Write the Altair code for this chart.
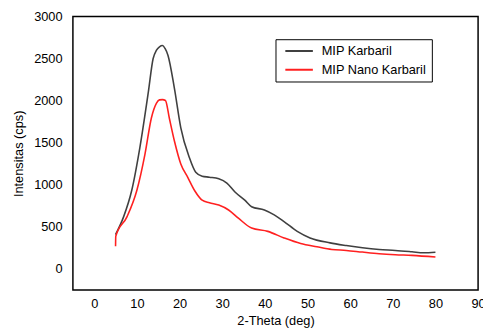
import altair as alt
import pandas as pd

black_x = [5, 6.9, 8.8, 10.7, 12.7, 13.8, 14.6, 15.3, 16.0, 16.6, 17.3, 18.8, 20.3, 22.3, 23.8,
           25.3, 27.0, 29.2, 31.1, 33.0, 35.3, 36.9, 39.9, 42.2, 44.5, 47.6, 50.6, 55.3, 59.1,
           62.9, 66.8, 70.6, 74.5, 77.2, 80]
black_y = [400, 615, 929, 1438, 2105, 2497, 2600, 2640, 2655, 2620, 2537, 2144, 1673, 1320, 1144,
           1097, 1085, 1066, 1015, 909, 811, 733, 694, 635, 556, 439, 361, 302, 270,
           243, 223, 212, 196, 184, 190]

red_x = [5, 5.05, 7.7, 10.0, 11.9, 13.4, 14.6, 15.3, 16.0, 16.7, 17.6, 18.8, 20.3, 21.9, 23.6,
         25.3, 27.0, 29.2, 31.5, 33.8, 36.9, 40.7, 44.5, 48.4, 52.2, 55.7, 59.1, 62.9, 66.8,
         70.6, 74.5, 80]
red_y = [262, 380, 615, 929, 1360, 1791, 1968, 2007, 2010, 2000, 1791, 1517, 1243, 1086, 920,
         811, 780, 753, 694, 596, 478, 439, 361, 294, 255, 223, 212, 192, 173,
         161, 153, 133]

series_names = ["MIP Karbaril", "MIP Nano Karbaril"]
series_colors = ["#404040", "#ff2020"]
x_ticks = [0, 10, 20, 30, 40, 50, 60, 70, 80, 90]
y_ticks = [0, 500, 1000, 1500, 2000, 2500, 3000]

df = pd.concat([
    pd.DataFrame({"x": black_x, "y": black_y, "s": series_names[0], "o": range(len(black_x))}),
    pd.DataFrame({"x": red_x, "y": red_y, "s": series_names[1], "o": range(len(red_x))}),
])

font = "Liberation Sans"

chart = alt.Chart(df).mark_line(strokeWidth=1.6, interpolate="monotone").encode(
    x=alt.X("x:Q", scale=alt.Scale(domain=[-5, 90], nice=False, zero=False),
            axis=alt.Axis(values=x_ticks, title="2-Theta (deg)", grid=False, ticks=False,
                          domain=False, labelPadding=8, titlePadding=4, labelFont=font,
                          titleFont=font, labelFontSize=13, titleFontSize=13,
                          titleFontWeight="normal", labelColor="black", titleColor="black",
                          labelFlush=False, format="d")),
    y=alt.Y("y:Q", scale=alt.Scale(domain=[-260, 3000], nice=False, zero=False),
            axis=alt.Axis(values=y_ticks, title="Intensitas (cps)", grid=False, ticks=False,
                          domain=False, labelPadding=11, titlePadding=8, labelFont=font,
                          titleFont=font, labelFontSize=13, titleFontSize=13,
                          titleFontWeight="normal", labelColor="black", titleColor="black",
                          labelFlush=False, format="d")),
    color=alt.Color("s:N", scale=alt.Scale(domain=series_names, range=series_colors),
                    legend=alt.Legend(title=None, orient="none", legendX=206, legendY=23,
                                      symbolType="stroke", symbolSize=784, symbolStrokeWidth=2,
                                      clipHeight=14, strokeColor="black", padding=5,
                                      labelFont=font, labelFontSize=13, labelColor="black",
                                      rowPadding=5, symbolOffset=4, labelOffset=8,
                                      fillColor="white")),
    order="o:Q",
).properties(
    width=412, height=278,
    autosize=alt.AutoSizeParams(type="none"),
    padding={"left": 66, "top": 6, "right": 5, "bottom": 42},
).configure_view(stroke="black", strokeWidth=1.5)

chart.save("out.html", embed_options={"renderer": "svg", "actions": False})
